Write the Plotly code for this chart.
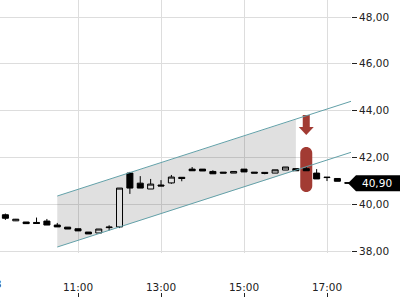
import plotly.graph_objects as go

DAY = "2024-08-28 "
times = ["09:15", "09:30", "09:45", "10:00", "10:15", "10:30", "10:45", "11:00",
         "11:15", "11:30", "11:45", "12:00", "12:15", "12:30", "12:45", "13:00",
         "13:15", "13:30", "13:45", "14:00", "14:15", "14:30", "14:45", "15:00",
         "15:15", "15:30", "15:45", "16:00", "16:15", "16:30", "16:45", "17:00",
         "17:15", "17:30"]
opens = [39.55, 39.29, 39.24, 39.22, 39.28, 39.11, 39.02, 38.95,
         38.81, 38.77, 39.00, 39.03, 41.33, 40.90, 40.65, 40.82,
         40.91, 41.15, 41.50, 41.50, 41.40, 41.37, 41.33, 41.50,
         41.37, 41.36, 41.33, 41.46, 41.52, 41.52, 41.33, 41.16,
         41.10, 40.92]
highs = [39.60, 39.37, 39.24, 39.43, 39.37, 39.20, 39.02, 38.95,
         38.81, 38.94, 39.10, 40.69, 41.38, 41.20, 41.08, 41.03,
         41.25, 41.15, 41.59, 41.50, 41.45, 41.37, 41.40, 41.50,
         41.37, 41.36, 41.47, 41.59, 41.52, 41.60, 41.50, 41.16,
         41.10, 40.92]
lows = [39.33, 39.28, 39.17, 39.18, 39.11, 39.03, 38.94, 38.86,
        38.73, 38.77, 38.88, 38.98, 40.44, 40.69, 40.65, 40.78,
        40.87, 40.98, 41.43, 41.42, 41.30, 41.33, 41.33, 41.38,
        41.33, 41.28, 41.33, 41.46, 41.43, 41.43, 41.08, 40.99,
        40.98, 40.90]
closes = [39.40, 39.36, 39.17, 39.18, 39.11, 39.03, 38.94, 38.86,
          38.73, 38.94, 39.02, 40.69, 40.69, 40.69, 40.86, 40.78,
          41.16, 41.10, 41.43, 41.42, 41.30, 41.33, 41.40, 41.38,
          41.33, 41.32, 41.47, 41.59, 41.43, 41.43, 41.08, 41.14,
          40.98, 40.90]

channel_times = ["10:30", "17:36"]
channel_upper = [40.35, 44.41]
channel_lower = [38.17, 42.23]
shade_times = ["10:30", "16:15"]
shade_upper = [40.35, 43.62]
shade_lower = [38.17, 41.44]

signal_time = "16:30"
arrow_value = 42.96
bar_value = 41.48

x_tick_times = ["11:00", "13:00", "15:00", "17:00"]
x_tick_text = ["11:00", "13:00", "15:00", "17:00"]
first_label_text = "28"
y_ticks = [38, 40, 42, 44, 46, 48]
last_price = closes[-1]

x_range = [DAY + "09:07:12", DAY + "17:34:42"]
y_range = [37.915, 48.727]

FONT = "DejaVu Sans"
TEAL = "#62a0a8"
RED = "#a23b33"
GRID = "#dddddd"

ts = lambda lst: [DAY + t for t in lst]

fig = go.Figure()

# channel shading
fig.add_trace(go.Scatter(x=ts(shade_times), y=shade_lower, mode="lines",
                         line=dict(width=0), hoverinfo="skip"))
fig.add_trace(go.Scatter(x=ts(shade_times), y=shade_upper, mode="lines",
                         line=dict(width=0), fill="tonexty",
                         fillcolor="rgba(0,0,0,0.12)", hoverinfo="skip"))
# channel lines
fig.add_trace(go.Scatter(x=ts(channel_times), y=channel_upper, mode="lines",
                         line=dict(color=TEAL, width=1)))
fig.add_trace(go.Scatter(x=ts(channel_times), y=channel_lower, mode="lines",
                         line=dict(color=TEAL, width=1)))

fig.add_trace(go.Candlestick(
    x=ts(times), open=opens, high=highs, low=lows, close=closes,
    increasing=dict(line=dict(color="black", width=1), fillcolor="white"),
    decreasing=dict(line=dict(color="black", width=1), fillcolor="black"),
    whiskerwidth=0,
))

# helper axis for bottom tick marks
fig.add_trace(go.Scatter(x=ts(x_tick_times), y=[None] * len(x_tick_times),
                         xaxis="x2", yaxis="y", mode="lines", hoverinfo="skip"))

shapes = []
# red arrow (pixel-sized, anchored on the signal candle)
shapes.append(dict(
    type="path", xref="x", yref="y", xsizemode="pixel", ysizemode="pixel",
    xanchor=DAY + signal_time, yanchor=arrow_value,
    path="M -3.5,20 L 3.5,20 L 3.5,8 L 7.5,8 L 0,0 L -7.5,8 L -3.5,8 Z",
    fillcolor=RED, line=dict(width=0), layer="between"))
# red rounded marker bar
shapes.append(dict(
    type="path", xref="x", yref="y", xsizemode="pixel", ysizemode="pixel",
    xanchor=DAY + signal_time, yanchor=bar_value,
    path=("M -6,-16.5 L -6,16.5 C -6,19.8 -3.3,22.5 0,22.5 C 3.3,22.5 6,19.8 6,16.5 "
          "L 6,-16.5 C 6,-19.8 3.3,-22.5 0,-22.5 C -3.3,-22.5 -6,-19.8 -6,-16.5 Z"),
    fillcolor=RED, line=dict(width=0), layer="between"))
# last price label box
shapes.append(dict(
    type="path", xref="paper", yref="y", ysizemode="pixel", yanchor=last_price,
    path="M 0.9915,0 L 1.0143,8 L 1.2,8 L 1.2,-8 L 1.0143,-8 Z",
    fillcolor="black", line=dict(width=0), layer="above"))

annotations = [
    dict(x=1.074, xref="paper", y=last_price, yref="y",
         text=f"{last_price:.2f}".replace(".", ","), showarrow=False,
         font=dict(family=FONT, size=10.5, color="white"), xanchor="center", yanchor="middle"),
    dict(x=0.0085, xref="paper", y=0.045, yref="paper",
         text=first_label_text, showarrow=False,
         font=dict(family=FONT, size=10.5, color="#222"), xanchor="right", yanchor="middle"),
]

fig.update_layout(
    width=400, height=300,
    margin=dict(l=0, r=49, t=0, b=3),
    paper_bgcolor="white", plot_bgcolor="white",
    showlegend=False, separators=",.",
    boxgap=0.17, boxgroupgap=0.3,
    font=dict(family=FONT, size=10.5, color="#222"),
    shapes=shapes, annotations=annotations,
    xaxis=dict(type="date", range=x_range, rangeslider=dict(visible=False),
               tickvals=ts(x_tick_times), ticktext=x_tick_text,
               showgrid=True, gridcolor=GRID, gridwidth=1,
               ticks="outside", ticklen=24, tickcolor="rgba(0,0,0,0)",
               showline=False, zeroline=False, domain=[0, 1]),
    xaxis2=dict(type="date", matches="x", overlaying="x", anchor="free", position=0,
                tickvals=ts(x_tick_times), showticklabels=False,
                ticks="inside", ticklen=4, tickcolor="#222", tickwidth=1,
                showgrid=False, showline=False, zeroline=False),
    yaxis=dict(side="right", range=y_range, domain=[44 / 297, 1],
               tickvals=y_ticks, tickformat=".2f",
               showgrid=True, gridcolor=GRID, gridwidth=1,
               ticks="outside", ticklen=5, tickcolor="#222", tickwidth=1,
               showline=False, zeroline=False),
)

fig.write_html("out.html")
